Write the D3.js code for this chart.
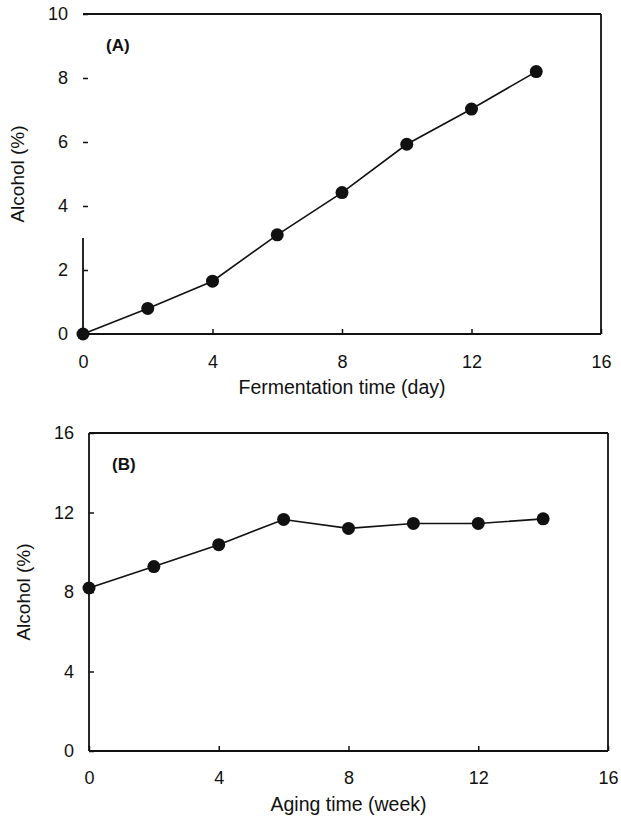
<!DOCTYPE html>
<html>
<head>
<meta charset="utf-8">
<script src="https://cdn.jsdelivr.net/npm/d3@7"></script>
<style>
  body { margin: 0; background: #fff; }
  text { font-family: "Liberation Sans", Arial, sans-serif; fill: #111; }
</style>
</head>
<body>
<svg id="chart" width="621" height="819"></svg>
<script>
// fermentation (A)
const daysA = [0, 2, 4, 6, 8, 10, 12, 14];
const alcoholA = [0.0, 0.8, 1.65, 3.1, 4.42, 5.93, 7.03, 8.2];
const ticksAx = [0, 4, 8, 12, 16];
const ticksAy = [0, 2, 4, 6, 8, 10];

// aging (B)
const weeksB = [0, 2, 4, 6, 8, 10, 12, 14];
const alcoholB = [8.2, 9.28, 10.38, 11.65, 11.2, 11.45, 11.45, 11.68];
const ticksBx = [0, 4, 8, 12, 16];
const ticksBy = [0, 4, 8, 12, 16];

const svg = d3.select('#chart');

function panel(opts) {
  const x = d3.scaleLinear().domain([0, 16]).range([opts.left, opts.right]);
  const y = d3.scaleLinear().domain([0, opts.ymax]).range([opts.bottom, opts.top]);
  const g = svg.append('g');

  const xAxis = g.append('g')
    .attr('transform', `translate(0,${opts.bottom})`)
    .call(d3.axisBottom(x).tickValues(opts.xt).tickSize(-5).tickPadding(opts.xpad).tickFormat(d3.format('d')));
  const yAxis = g.append('g')
    .attr('transform', `translate(${opts.left},0)`)
    .call(d3.axisLeft(y).tickValues(opts.yt).tickSize(-5).tickPadding(15).tickFormat(d3.format('d')));

  [xAxis, yAxis].forEach(a => {
    a.select('.domain').remove();
    a.selectAll('line').attr('stroke', '#111').attr('stroke-width', 1.5);
    a.selectAll('text').style('font-size', '18px').attr('fill', '#111');
  });

  // frame; left side of (A) is faded in the scan above ~3
  const frame = g.append('g').attr('stroke', '#111').attr('stroke-width', 1.8).attr('fill', 'none');
  frame.append('line').attr('x1', opts.left).attr('x2', opts.right).attr('y1', opts.top).attr('y2', opts.top);
  frame.append('line').attr('x1', opts.left).attr('x2', opts.right).attr('y1', opts.bottom).attr('y2', opts.bottom);
  frame.append('line').attr('x1', opts.right).attr('x2', opts.right).attr('y1', opts.top).attr('y2', opts.bottom);
  frame.append('line').attr('x1', opts.left).attr('x2', opts.left)
    .attr('y1', y(opts.leftTop)).attr('y2', opts.bottom);

  const pts = opts.xs.map((v, i) => [v, opts.ys[i]]);
  g.append('path')
    .datum(pts)
    .attr('fill', 'none')
    .attr('stroke', '#111')
    .attr('stroke-width', 1.6)
    .attr('d', d3.line().x(d => x(d[0])).y(d => y(d[1])));

  g.selectAll('circle.dot')
    .data(pts)
    .join('circle')
    .attr('class', 'dot')
    .attr('cx', d => x(d[0]))
    .attr('cy', d => y(d[1]))
    .attr('r', 6.5)
    .attr('fill', '#111');

  g.append('text')
    .attr('x', opts.left + 23)
    .attr('y', opts.top + 37)
    .style('font-size', '17px')
    .style('font-weight', 'bold')
    .text(opts.tag);

  g.append('text')
    .attr('x', (opts.left + opts.right) / 2)
    .attr('y', opts.bottom + 60)
    .attr('text-anchor', 'middle')
    .style('font-size', '19.5px')
    .text(opts.xlabel);

  g.append('text')
    .attr('transform', `translate(${opts.left - 59},${(opts.top + opts.bottom) / 2}) rotate(-90)`)
    .attr('text-anchor', 'middle')
    .style('font-size', '19px')
    .text('Alcohol (%)');
}

panel({
  left: 83, right: 601, top: 14, bottom: 334, ymax: 10,
  xt: ticksAx, yt: ticksAy, xs: daysA, ys: alcoholA, xpad: 21,
  leftTop: 3.0, tag: '(A)', xlabel: 'Fermentation time (day)'
});

panel({
  left: 89, right: 608, top: 433, bottom: 751, ymax: 16,
  xt: ticksBx, yt: ticksBy, xs: weeksB, ys: alcoholB, xpad: 20,
  leftTop: 16, tag: '(B)', xlabel: 'Aging time (week)'
});
</script>
</body>
</html>
